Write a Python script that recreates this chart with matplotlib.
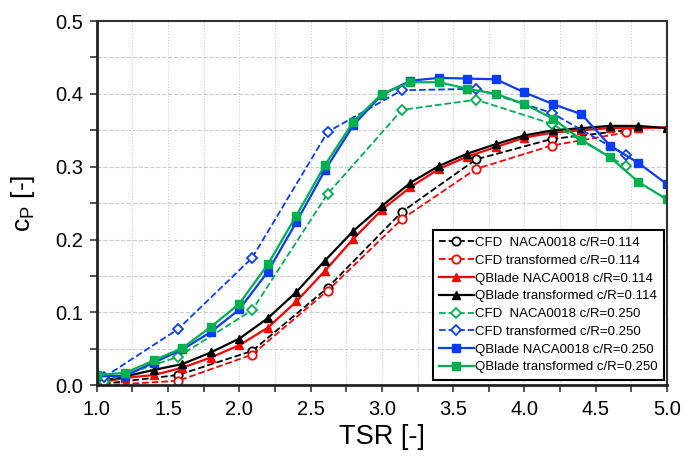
import matplotlib
matplotlib.use("Agg")
import matplotlib.pyplot as plt
from matplotlib.ticker import MultipleLocator

plt.rcParams['font.family'] = ['Liberation Sans', 'DejaVu Sans']
plt.rcParams['mathtext.default'] = 'regular'

# TSR positions
tsr_cfd = [1.05, 1.57, 2.09, 2.62, 3.14, 3.66, 4.19, 4.71]
tsr_qb = [1.0, 1.2, 1.4, 1.6, 1.8, 2.0, 2.2, 2.4, 2.6, 2.8, 3.0,
          3.2, 3.4, 3.6, 3.8, 4.0, 4.2, 4.4, 4.6, 4.8, 5.0]

# c/R = 0.114
cfd_naca_114 = [0.002, 0.014, 0.047, 0.134, 0.238, 0.310, 0.338, 0.350]
cfd_trans_114 = [0.000, 0.006, 0.042, 0.130, 0.228, 0.297, 0.329, 0.347]
qb_naca_114 = [0.003, 0.010, 0.014, 0.024, 0.038, 0.055, 0.079, 0.115, 0.157, 0.201, 0.241,
               0.272, 0.297, 0.314, 0.327, 0.340, 0.347, 0.350, 0.353, 0.353, 0.354]
qb_trans_114 = [0.005, 0.012, 0.021, 0.029, 0.045, 0.064, 0.092, 0.128, 0.171, 0.212, 0.246,
                0.278, 0.301, 0.318, 0.331, 0.343, 0.350, 0.353, 0.356, 0.356, 0.353]

# c/R = 0.250
cfd_naca_250 = [0.005, 0.039, 0.103, 0.263, 0.378, 0.392, 0.359, 0.301]
cfd_trans_250 = [0.011, 0.077, 0.175, 0.348, 0.405, 0.407, 0.374, 0.316]
qb_naca_250 = [0.012, 0.013, 0.031, 0.049, 0.073, 0.104, 0.156, 0.224, 0.295, 0.357, 0.399,
               0.418, 0.422, 0.421, 0.420, 0.402, 0.386, 0.372, 0.329, 0.305, 0.276]
qb_trans_250 = [0.014, 0.017, 0.034, 0.051, 0.080, 0.112, 0.166, 0.233, 0.302, 0.362, 0.400,
                0.416, 0.416, 0.407, 0.400, 0.386, 0.366, 0.337, 0.313, 0.279, 0.255]

RED = "#ff0000"
BLUE = "#0a3cf5"
GREEN = "#00b050"

fig = plt.figure(figsize=(6.82, 4.58), dpi=100)
ax = fig.add_axes([0.142, 0.159, 0.836, 0.795])

ms = 6
ax.plot(tsr_cfd, cfd_naca_114, "--o", color="black", mfc="white", mew=1.3, ms=ms, lw=1.3,
        label="CFD  NACA0018 c/R=0.114")
ax.plot(tsr_cfd, cfd_trans_114, "--o", color=RED, mfc="white", mew=1.3, ms=ms, lw=1.3,
        label="CFD transformed c/R=0.114")
ax.plot(tsr_qb, qb_naca_114, "-^", color=RED, ms=ms, lw=1.6,
        label="QBlade NACA0018 c/R=0.114")
ax.plot(tsr_qb, qb_trans_114, "-^", color="black", ms=ms, lw=1.6,
        label="QBlade transformed c/R=0.114")
ax.plot(tsr_cfd, cfd_naca_250, "--D", color=GREEN, mfc="white", mew=1.3, ms=5.5, lw=1.3,
        label="CFD  NACA0018 c/R=0.250")
ax.plot(tsr_cfd, cfd_trans_250, "--D", color=BLUE, mfc="white", mew=1.3, ms=5.5, lw=1.3,
        label="CFD transformed c/R=0.250")
ax.plot(tsr_qb, qb_naca_250, "-s", color=BLUE, ms=ms, lw=1.6,
        label="QBlade NACA0018 c/R=0.250")
ax.plot(tsr_qb, qb_trans_250, "-s", color=GREEN, ms=ms, lw=1.6,
        label="QBlade transformed c/R=0.250")

ax.set_xlim(1.0, 5.0)
ax.set_ylim(0.0, 0.5)
ax.xaxis.set_major_locator(MultipleLocator(0.5))
ax.xaxis.set_minor_locator(MultipleLocator(0.25))
ax.yaxis.set_major_locator(MultipleLocator(0.1))
ax.yaxis.set_minor_locator(MultipleLocator(0.05))
ax.xaxis.set_major_formatter(matplotlib.ticker.FormatStrFormatter("%.1f"))
ax.yaxis.set_major_formatter(matplotlib.ticker.FormatStrFormatter("%.1f"))

ax.grid(True, which="both", axis="y", ls="--", color="#cccccc", lw=0.8)
ax.grid(True, which="both", axis="x", ls=":", color="#cccccc", lw=0.8)
ax.set_axisbelow(True)

ax.tick_params(which="both", direction="out", labelsize=14.5, width=1.2, color="#333333")
ax.tick_params(which="both", length=5)
ax.tick_params(axis="x", pad=6)
ax.tick_params(axis="y", pad=5)
for side in ["left", "bottom"]:
    ax.spines[side].set_linewidth(2.0)
    ax.spines[side].set_color("#222222")
for side in ["top", "right"]:
    ax.spines[side].set_linewidth(1.5)
    ax.spines[side].set_color("#333333")

ax.set_xlabel("TSR [-]", fontsize=19.5, labelpad=3)
ax.set_ylabel("c$_{P}$ [-]", fontsize=19, labelpad=13)

leg = ax.legend(loc="lower right", fontsize=9.5, numpoints=1, handlelength=2.6,
                handletextpad=0.1, labelspacing=0.42, borderpad=0.5,
                borderaxespad=0, fancybox=False, framealpha=1, edgecolor="black",
                bbox_to_anchor=(0.995, 0.014))
leg.get_frame().set_linewidth(1.5)

plt.savefig("out.png", dpi=100)
